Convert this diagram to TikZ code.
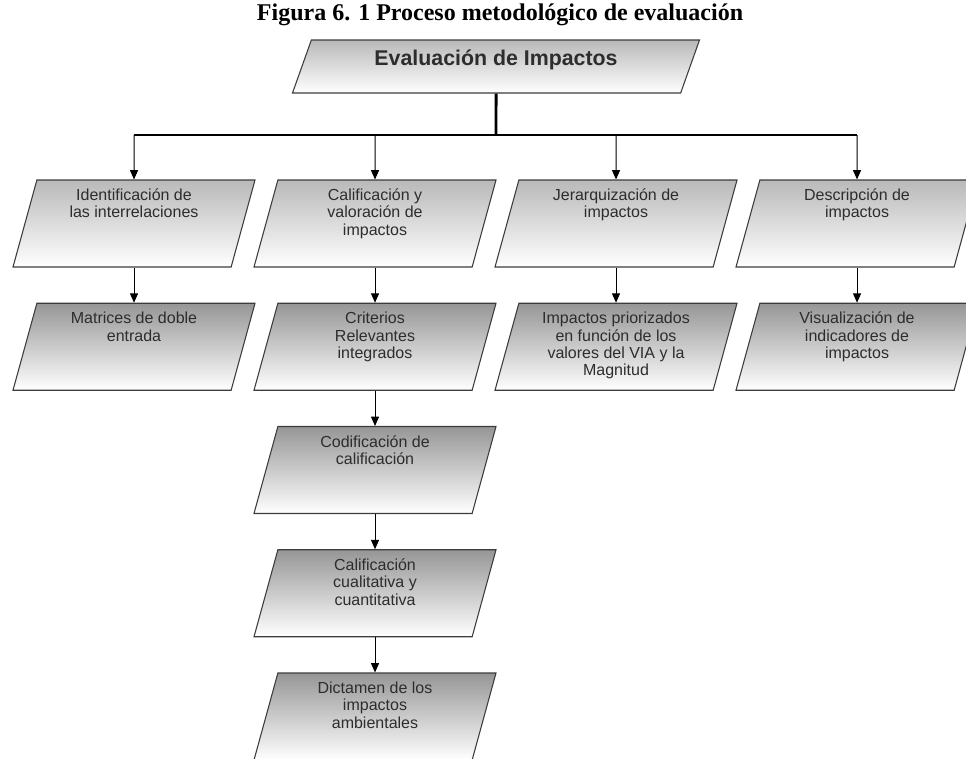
\documentclass[tikz,border=0pt]{standalone}
\usepackage{fontspec}
\setmainfont{Liberation Serif}
\newfontfamily\boxfont{Liberation Sans}
\usepackage{xcolor}
\usepackage{tikz}
\usetikzlibrary{shapes.geometric, arrows.meta, positioning}
\definecolor{edgegray}{RGB}{60,60,60}
\definecolor{textgray}{RGB}{45,45,45}
\definecolor{shadegray}{RGB}{150,150,150}
\definecolor{palegray}{RGB}{185,185,185}
\newcommand{\boxtext}[1]{\parbox[c][52pt][t]{130pt}{\centering #1}}

\tikzset{
  flowbox/.style={trapezium, trapezium left angle=71, trapezium right angle=109,
    trapezium stretches body, minimum width=181.5pt, minimum height=65.25pt,
    inner sep=0pt, draw=edgegray, line width=0.8pt, top color=shadegray,
    bottom color=white, text=textgray, font=\boxfont\fontsize{12}{13}\selectfont},
  firstbox/.style={flowbox, top color=palegray},
  headbox/.style={flowbox, trapezium left angle=61, trapezium right angle=119,
    minimum width=305.25pt, minimum height=39.75pt, top color=palegray,
    font=\boxfont\bfseries\fontsize{16}{18}\selectfont},
  flowarrow/.style={-{Triangle[width=6pt,length=7pt]}, line width=0.75pt},
  busline/.style={line width=2.2pt}
}

\begin{document}
\begin{tikzpicture}[x=0.75pt, y=-0.75pt]
  \useasboundingbox (0,0) rectangle (966,758);
  \node[anchor=base, font=\fontsize{18}{20}\selectfont\bfseries] (caption) at (500,20) {Figura 6. 1 Proceso metodológico de evaluación};
  \node[headbox] (evalimp) at (496,66.5) {\parbox[c][25.5pt][t]{220pt}{\centering Evaluación de Impactos}};
  \coordinate (bus) at (496,135);

  \node[firstbox] (ident) at (134,223.5) {\boxtext{Identificación de\\las interrelaciones}};
  \node[firstbox] (calif) at (375,223.5) {\boxtext{Calificación y\\valoración de\\impactos}};
  \node[firstbox] (jerar) at (616,223.5) {\boxtext{Jerarquización de\\impactos}};
  \node[firstbox] (descr) at (857,223.5) {\boxtext{Descripción de\\impactos}};

  \node[flowbox] (matri) at (134,346.75) {\boxtext{Matrices de doble\\entrada}};
  \node[flowbox] (crite) at (375,346.75) {\boxtext{Criterios\\Relevantes\\integrados}};
  \node[flowbox] (prior) at (616,346.75) {\boxtext{Impactos priorizados\\en función de los\\valores del VIA y la\\Magnitud}};
  \node[flowbox] (visua) at (857,346.75) {\boxtext{Visualización de\\indicadores de\\impactos}};

  \node[flowbox] (codif) at (375,470) {\boxtext{Codificación de\\calificación}};
  \node[flowbox] (cuali) at (375,593.25) {\boxtext{Calificación\\cualitativa y\\cuantitativa}};
  \node[flowbox] (dicta) at (375,716.5) {\boxtext{Dictamen de los\\impactos\\ambientales}};

  \draw[busline] (evalimp.south) -- (bus);
  \draw[busline] (ident |- bus) -- (descr |- bus);
  \foreach \n in {ident, calif, jerar, descr}
    \draw[flowarrow] (\n |- bus) -- (\n.north);
  \foreach \a/\b in {ident/matri, calif/crite, jerar/prior, descr/visua, crite/codif, codif/cuali, cuali/dicta}
    \draw[flowarrow] (\a.south) -- (\b.north);
\end{tikzpicture}
\end{document}
